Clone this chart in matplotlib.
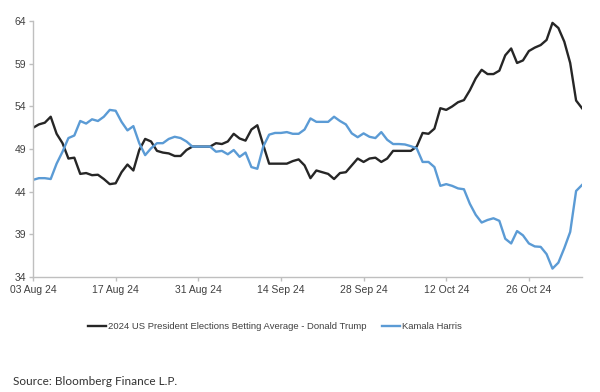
import matplotlib
matplotlib.use("Agg")
import matplotlib.pyplot as plt
import matplotlib.dates as mdates
import numpy as np
import pandas as pd

dates = pd.date_range("2024-08-03", "2024-11-04", freq="D")

trump = [51.5, 51.9, 52.1, 52.8, 50.8, 49.7, 47.9, 48.0, 46.1, 46.2,
         45.95, 46.0, 45.5, 44.9, 45.0, 46.3, 47.2, 46.5, 48.9, 50.2,
         49.9, 48.8, 48.6, 48.5, 48.2, 48.2, 48.9, 49.3, 49.3, 49.3,
         49.3, 49.7, 49.6, 49.9, 50.8, 50.25, 50.0, 51.3, 51.8, 49.5,
         47.3, 47.3, 47.3, 47.3, 47.6, 47.8, 47.1, 45.6, 46.5, 46.3,
         46.1, 45.5, 46.2, 46.3, 47.1, 47.9, 47.5, 47.9, 48.0, 47.5,
         47.9, 48.8, 48.8, 48.8, 48.8, 49.3, 50.9, 50.8, 51.4, 53.8,
         53.6, 54.0, 54.5, 54.75, 55.9, 57.3, 58.3, 57.8, 57.8, 58.2,
         60.0, 60.8, 59.1, 59.4, 60.5, 60.9, 61.2, 61.8, 63.8, 63.2,
         61.6, 59.1, 54.7, 53.8]

harris = [45.4, 45.6, 45.6, 45.5, 47.3, 48.7, 50.3, 50.6, 52.3, 52.0,
          52.5, 52.3, 52.8, 53.6, 53.5, 52.2, 51.2, 51.7, 49.7, 48.3,
          49.1, 49.7, 49.7, 50.2, 50.45, 50.3, 49.9, 49.3, 49.3, 49.3,
          49.3, 48.7, 48.8, 48.4, 48.9, 48.1, 48.6, 46.9, 46.7, 49.3,
          50.7, 50.9, 50.9, 51.0, 50.8, 50.8, 51.3, 52.6, 52.2, 52.2,
          52.2, 52.8, 52.3, 51.9, 50.85, 50.4, 50.85, 50.45, 50.3, 51.0,
          50.1, 49.6, 49.6, 49.55, 49.35, 49.1, 47.5, 47.5, 46.9, 44.7,
          44.9, 44.7, 44.4, 44.3, 42.6, 41.3, 40.4, 40.7, 40.9, 40.6,
          38.5, 37.95, 39.4, 38.9, 37.95, 37.6, 37.55, 36.7, 35.0, 35.7,
          37.4, 39.3, 44.1, 44.8]

yticks = [34, 39, 44, 49, 54, 59, 64]
xtick_dates = pd.date_range("2024-08-03", "2024-10-26", freq="14D")
labels = ["2024 US President Elections Betting Average - Donald Trump", "Kamala Harris"]

plt.rcParams['font.family'] = ['Liberation Sans', 'DejaVu Sans']

fig = plt.figure(figsize=(6, 3.92), dpi=100)
ax = fig.add_axes([0.055, 0.293, 0.915, 0.653])

l1, = ax.plot(dates, trump, color="#262626", lw=1.7, label=labels[0])
l2, = ax.plot(dates, harris, color="#5b9bd5", lw=1.7, label=labels[1])

ax.set_ylim(34, 64)
ax.set_xlim(dates[0], dates[-1])
ax.set_yticks(yticks)
ax.set_xticks(xtick_dates)
ax.xaxis.set_major_formatter(mdates.DateFormatter("%d %b %y"))

for s in ["top", "right"]:
    ax.spines[s].set_visible(False)
for s in ["left", "bottom"]:
    ax.spines[s].set_color("#bfbfbf")
    ax.spines[s].set_linewidth(1.0)
ax.tick_params(axis="both", colors="#bfbfbf", labelcolor="#404040",
               labelsize=7.5, length=3, width=1)
ax.tick_params(axis="y", pad=2)
ax.tick_params(axis="x", pad=3)

for line, x0 in [(l1, 88 / 600), (l2, 382 / 600)]:
    fig.legend(handles=[line], loc="center left", bbox_to_anchor=(x0, 0.166),
               frameon=False, fontsize=6.8, handlelength=1.9, handletextpad=0.2,
               borderpad=0, borderaxespad=0, labelcolor="#404040")

fig.text(0.022, 0.028, "Source: Bloomberg Finance L.P.", fontsize=8.5,
         color="#333333", family=["Lato", "DejaVu Sans"], va="center")

fig.savefig("out.png", dpi=100)
